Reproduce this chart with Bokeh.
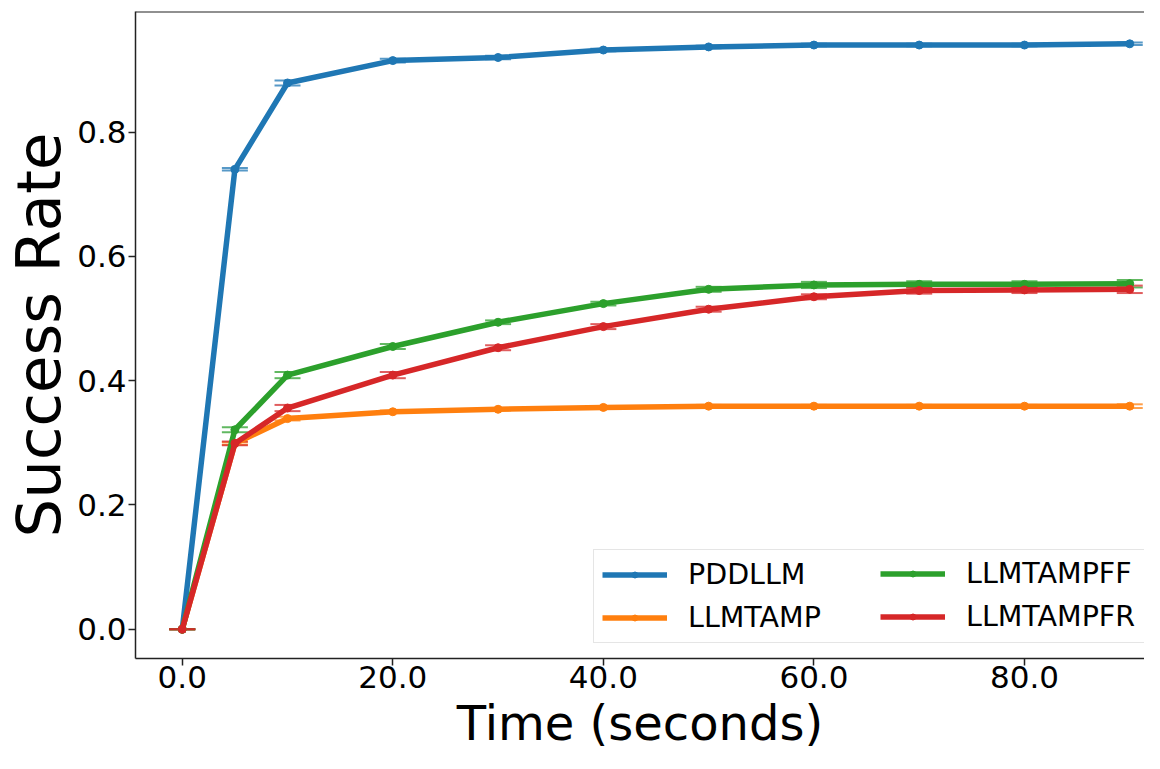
from bokeh.plotting import figure
from bokeh.models import (ColumnDataSource, Whisker, TeeHead, Legend, LegendItem,
                          FixedTicker, PrintfTickFormatter, Span, Range1d)
from bokeh.embed import file_html
from bokeh.resources import INLINE

# ---- data ----
time_s = [0, 5, 10, 20, 30, 40, 50, 60, 70, 80, 90]
series_names = ["PDDLLM", "LLMTAMP", "LLMTAMPFF", "LLMTAMPFR"]
pddllm = [0.0, 0.740, 0.879, 0.915, 0.920, 0.932, 0.937, 0.940, 0.940, 0.940, 0.942]
llmtamp = [0.0, 0.299, 0.339, 0.350, 0.354, 0.357, 0.359, 0.359, 0.359, 0.359, 0.359]
llmtampff = [0.0, 0.321, 0.409, 0.455, 0.494, 0.524, 0.547, 0.554, 0.555, 0.555, 0.556]
llmtampfr = [0.0, 0.299, 0.356, 0.409, 0.453, 0.487, 0.515, 0.535, 0.545, 0.546, 0.547]
pddllm_err = [0.0, 0.002, 0.004, 0.003, 0.003, 0.002, 0.002, 0.002, 0.002, 0.002, 0.002]
llmtamp_err = [0.0, 0.002, 0.003, 0.002, 0.002, 0.002, 0.002, 0.002, 0.002, 0.002, 0.003]
llmtampff_err = [0.0, 0.004, 0.005, 0.004, 0.003, 0.003, 0.004, 0.005, 0.005, 0.005, 0.006]
llmtampfr_err = [0.0, 0.003, 0.005, 0.005, 0.004, 0.004, 0.004, 0.004, 0.005, 0.005, 0.006]
colors = ["#1f77b4", "#ff7f0e", "#2ca02c", "#d62728"]

x_ticks = [0, 20, 40, 60, 80]
y_ticks = [0.0, 0.2, 0.4, 0.6, 0.8]

FONT = "DejaVu Sans"

p = figure(width=1144, height=753, output_backend="svg", toolbar_location=None,
           x_range=Range1d(-4.44, 91.4), y_range=Range1d(-0.047, 0.994),
           min_border_left=130, min_border_top=11, min_border_right=0, min_border_bottom=0)

p.grid.visible = False
p.outline_line_color = None
p.background_fill_color = "white"
p.border_fill_color = "white"

for ax in (p.xaxis[0], p.yaxis[0]):
    ax.axis_line_color = "#222222"
    ax.axis_line_width = 1.5
    ax.major_tick_line_color = "#222222"
    ax.major_tick_line_width = 1.5
    ax.major_tick_out = 7
    ax.major_tick_in = 0
    ax.minor_tick_line_color = None
    ax.major_label_text_font = FONT
    ax.major_label_text_color = "black"
    ax.major_label_text_font_size = "31px"
    ax.axis_label_text_font = FONT
    ax.axis_label_text_font_style = "normal"
    ax.axis_label_text_color = "black"

p.xaxis.ticker = FixedTicker(ticks=x_ticks)
p.yaxis.ticker = FixedTicker(ticks=y_ticks)
p.xaxis.formatter = PrintfTickFormatter(format="%.1f")
p.yaxis.formatter = PrintfTickFormatter(format="%.1f")
p.xaxis.axis_label = "Time (seconds)"
p.yaxis.axis_label = "Success Rate"
p.xaxis.axis_label_text_font_size = "48px"
p.yaxis.axis_label_text_font_size = "61px"
p.xaxis.axis_label_standoff = 4
p.yaxis.axis_label_standoff = 0
p.xaxis.major_label_standoff = 0
p.yaxis.major_label_standoff = 2

# top frame line
p.add_layout(Span(location=0.994, dimension="width", line_color="#222222", line_width=2))

items = []
all_vals = [pddllm, llmtamp, llmtampff, llmtampfr]
all_errs = [pddllm_err, llmtamp_err, llmtampff_err, llmtampfr_err]
for name, vals, errs, c in zip(series_names, all_vals, all_errs, colors):
    src = ColumnDataSource(dict(
        x=time_s, y=vals,
        lo=[v - e for v, e in zip(vals, errs)],
        hi=[v + e for v, e in zip(vals, errs)]))
    r_line = p.line("x", "y", source=src, line_color=c, line_width=5.5)
    r_pts = p.scatter("x", "y", source=src, size=8, fill_color=c, line_color=c)
    w = Whisker(source=src, base="x", upper="hi", lower="lo", dimension="height",
                line_color=c, line_width=2, line_alpha=0.75,
                upper_head=TeeHead(size=26, line_color=c, line_width=2, line_alpha=0.75),
                lower_head=TeeHead(size=26, line_color=c, line_width=2, line_alpha=0.75))
    p.add_layout(w)
    items.append(LegendItem(label=name, renderers=[r_line, r_pts]))

common = dict(label_text_font=FONT, label_text_font_size="28.5px", label_text_color="black",
              glyph_width=65, glyph_height=15, label_standoff=21, spacing=10,
              label_height=20, padding=8, margin=0)

legend_a = Legend(items=[items[0], items[1]], location=(458, 15),
                  label_width=450,
                  border_line_color="#cccccc", border_line_width=1.5,
                  background_fill_color="white", background_fill_alpha=0.9, **common)
legend_b = Legend(items=[items[2], items[3]], location=(745, 25),
                  label_width=150,
                  border_line_color=None, background_fill_alpha=0.0, **common)
p.add_layout(legend_a)
p.add_layout(legend_b)

open("out.html", "w").write(file_html(p, INLINE))
